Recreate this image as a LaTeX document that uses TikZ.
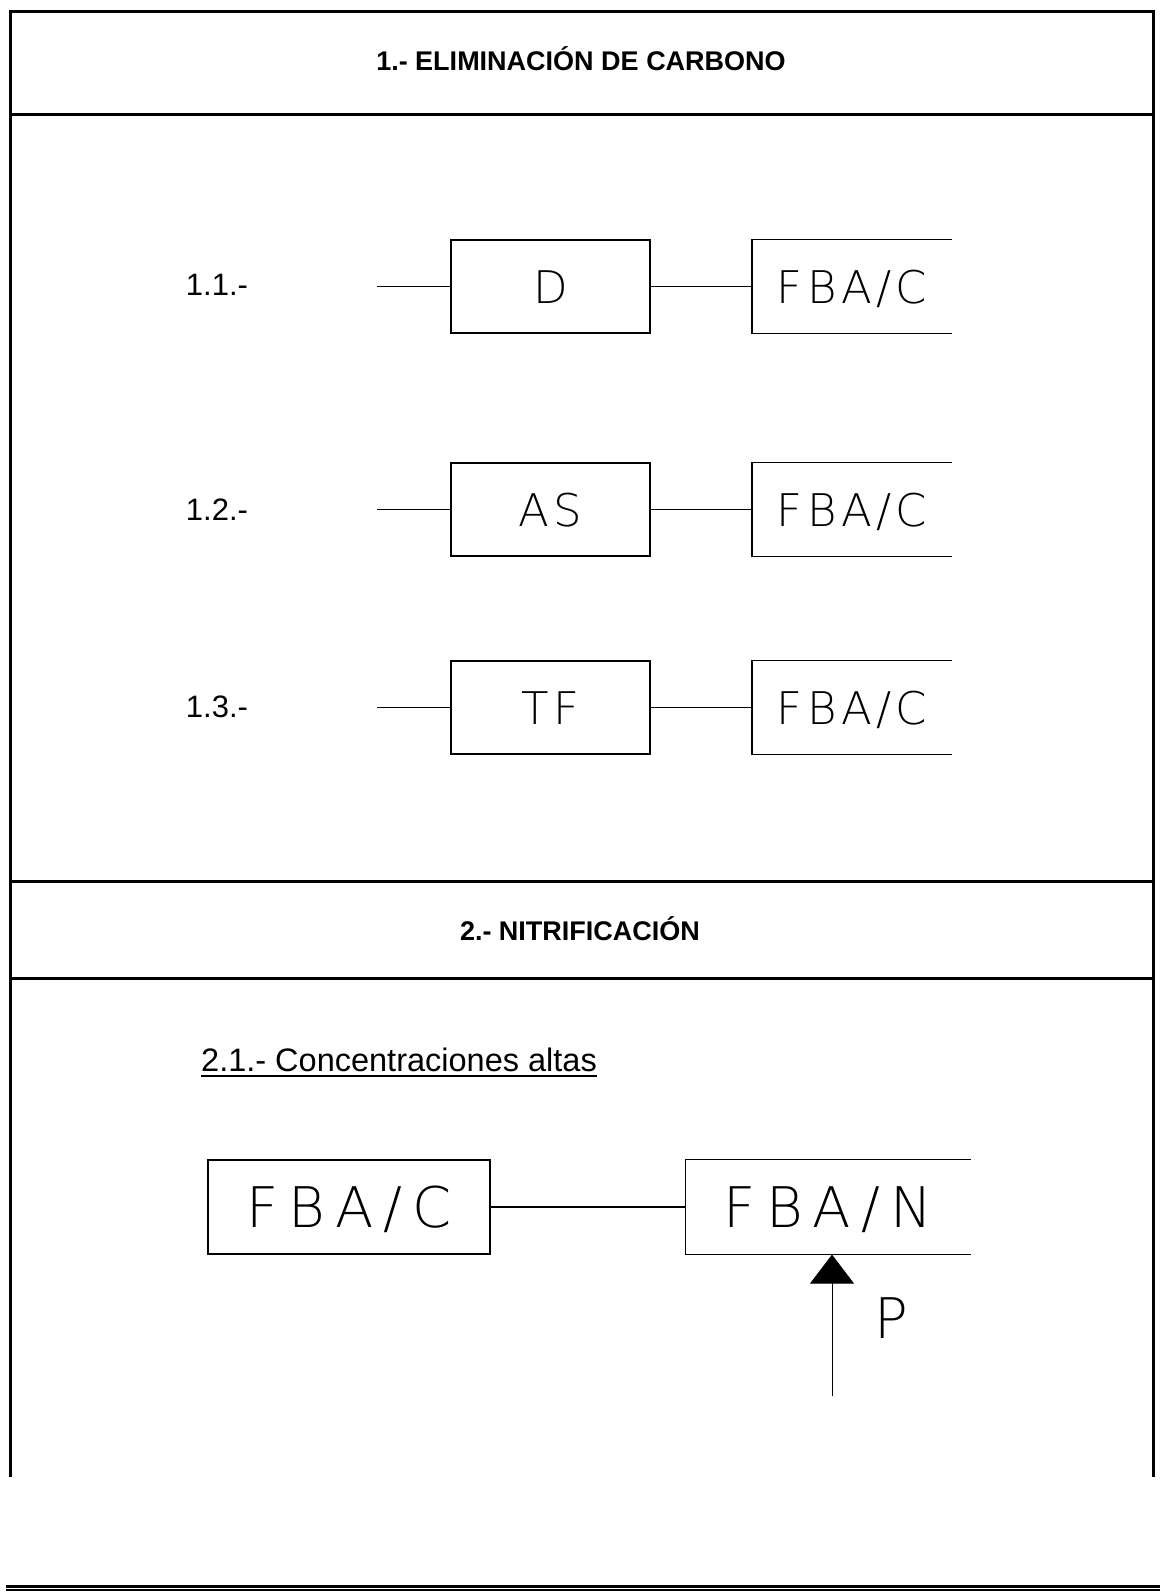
\documentclass[tikz,border=0pt]{standalone}
\usepackage{fontspec}
\setmainfont{Liberation Sans}
\IfFontExistsTF{DejaVu Sans ExtraLight}{\newfontfamily\cadfont{DejaVu Sans ExtraLight}}{\newfontfamily\cadfont{DejaVu Sans}}
\usetikzlibrary{arrows.meta}
\begin{document}
\begin{tikzpicture}[x=1pt,y=-1pt,
  frame/.style={line width=3pt},
  conn/.style={line width=1.2pt},
  rowbox/.style={draw, line width=1.2pt, minimum width=199pt, minimum height=93pt, inner sep=0pt,
     font={\cadfont\fontsize{45}{45}\selectfont\addfontfeature{LetterSpace=10}}, text height=33pt, text depth=0pt},
  openbox/.style={rowbox, draw=none},
  bigbox/.style={draw, line width=1.2pt, minimum width=282pt, minimum height=94pt, inner sep=0pt,
     font={\cadfont\fontsize{56}{56}\selectfont\addfontfeature{LetterSpace=18}}, text height=41pt, text depth=0pt},
  bigopen/.style={bigbox, draw=none, minimum width=284pt},
  rowlabel/.style={font=\fontsize{31}{36}\selectfont, inner sep=0pt},
  heading/.style={font=\bfseries\fontsize{27}{32}\selectfont, inner sep=0pt},
  openline/.style={line width=1.2pt}
]
\useasboundingbox (0,0) rectangle (1160,1595);
% frame
\draw[frame] (10,1477) -- (10,12) -- (1153,12) -- (1153,1477);
\draw[frame] (10,114) -- (1153,114);
\draw[frame] (10,881) -- (1153,881);
\draw[frame] (10,978) -- (1153,978);
\draw[line width=3pt] (6,1586) -- (1160,1586);
\draw[line width=2.5pt] (6,1590) -- (1160,1590);
% headings
\node[heading] (h1) at (581,59) {1.- ELIMINACIÓN DE CARBONO};
\node[heading] (h2) at (580,929) {2.- NITRIFICACIÓN};
% row 1
\node[rowlabel] (l1) at (217,285) {1.1.-};
\coordinate (in1) at (377,286.5);
\node[rowbox] (b11) at (550.5,286.5) {D};
\node[openbox] (b12) at (852,286.5) {FBA/C};
\draw[openline] (b12.north east) -- (b12.north west) -- (b12.south west) -- (b12.south east);
\draw[conn] (in1) -- (b11.west);
\draw[conn] (b11.east) -- (b12.west);
% row 2
\node[rowlabel] (l2) at (217,510) {1.2.-};
\coordinate (in2) at (377,509.5);
\node[rowbox] (b21) at (550.5,509.5) {AS};
\node[openbox] (b22) at (852,509.5) {FBA/C};
\draw[openline] (b22.north east) -- (b22.north west) -- (b22.south west) -- (b22.south east);
\draw[conn] (in2) -- (b21.west);
\draw[conn] (b21.east) -- (b22.west);
% row 3
\node[rowlabel] (l3) at (217,707) {1.3.-};
\coordinate (in3) at (377,707.5);
\node[rowbox] (b31) at (550.5,707.5) {TF};
\node[openbox] (b32) at (852,707.5) {FBA/C};
\draw[openline] (b32.north east) -- (b32.north west) -- (b32.south west) -- (b32.south east);
\draw[conn] (in3) -- (b31.west);
\draw[conn] (b31.east) -- (b32.west);
% section 2.1
\node[font=\fontsize{32.5}{38}\selectfont, inner sep=0pt, anchor=base west] (sub) at (201,1071) {2.1.- Concentraciones altas};
\path (sub.base west) ++(0,4.5) coordinate (u1) (sub.base east) ++(0,4.5) coordinate (u2);
\draw[line width=2pt] (u1) -- (u2);
\node[bigbox] (n1) at (349,1207) {FBA/C};
\node[bigopen] (n2) at (828,1207) {FBA/N};
\draw[openline] (n2.north east) -- (n2.north west) -- (n2.south west) -- (n2.south east);
\draw[conn] (n1.east) -- (n2.west);
\coordinate (src) at (832,1396);
\draw[line width=0.9pt, -{Triangle[length=29pt,width=44pt]}] (src) -- (src |- n2.south);
\node[font={\cadfont\fontsize{56}{56}\selectfont}, inner sep=0pt, anchor=north west, text height=41pt, text depth=0pt] (p) at (874,1297) {P};
\end{tikzpicture}
\end{document}
